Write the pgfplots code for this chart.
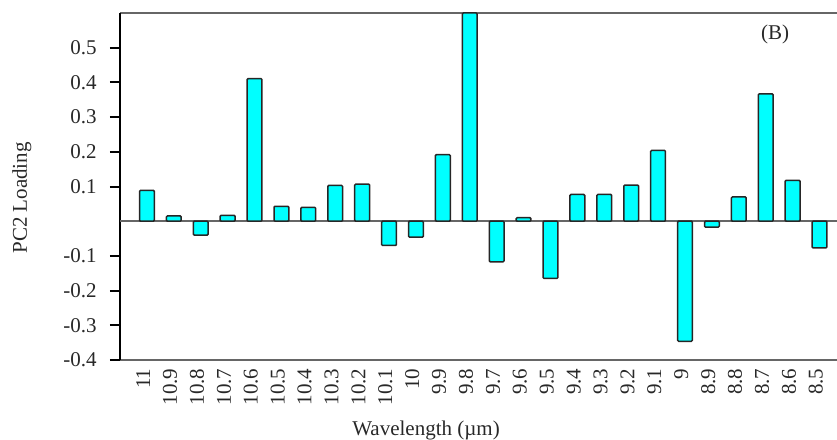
\documentclass[border=0pt]{standalone}
\usepackage{pgfplots}
\pgfplotsset{compat=1.18}
\usepackage{pgfplotstable}
\usepackage{fontspec}
\setmainfont{Liberation Serif}

% PC2 loading for each wavelength channel (index 0 = 11 um ... 25 = 8.5 um)
\pgfplotstableread{
idx load
0   0.089
1   0.015
2  -0.040
3   0.017
4   0.411
5   0.043
6   0.040
7   0.103
8   0.107
9  -0.070
10 -0.046
11  0.192
12  0.600
13 -0.117
14  0.010
15 -0.165
16  0.077
17  0.077
18  0.104
19  0.204
20 -0.346
21 -0.017
22  0.070
23  0.367
24  0.118
25 -0.077
}\loadings

\definecolor{barfill}{RGB}{0,255,255}
\definecolor{txt}{RGB}{40,40,40}

\begin{document}
\begin{tikzpicture}
\begin{axis}[
  scale only axis,
  width=430.2pt, height=208.2pt,
  xmin=-1, xmax=25.65,
  ymin=-0.4, ymax=0.6,
  axis x line*=box,
  axis y line*=left,
  x axis line style={draw=black!60, line width=1.1pt},
  y axis line style={draw=black, line width=1.5pt},
  xtick={0,...,25},
  xticklabels={11,10.9,10.8,10.7,10.6,10.5,10.4,10.3,10.2,10.1,10,9.9,9.8,9.7,9.6,9.5,9.4,9.3,9.2,9.1,9,8.9,8.8,8.7,8.6,8.5},
  major x tick style={draw=none},
  xticklabel style={rotate=90, anchor=east, inner sep=0pt, xshift=1pt, yshift=2.2pt},
  ytick={-0.4,-0.3,-0.2,-0.1,0.1,0.2,0.3,0.4,0.5},
  yticklabels={-0.4,-0.3,-0.2,-0.1,0.1,0.2,0.3,0.4,0.5},
  tick align=outside,
  major tick length=6pt,
  major y tick style={draw=black, line width=1.2pt},
  yticklabel style={anchor=east, inner sep=0pt, xshift=-7.8pt},
  tick label style={font=\fontsize{12.6pt}{15pt}\selectfont, text=txt},
  extra y ticks={0},
  extra y tick labels={},
  extra y tick style={grid=major, major grid style={draw=black!60, line width=1.1pt}, major tick length=0pt},
  every axis x label/.style={at={(axis description cs:0.4268,-0.2017)}, anchor=center},
  every axis y label/.style={at={(axis description cs:-0.1367,0.467)}, rotate=90, anchor=center},
  label style={font=\fontsize{12.6pt}{15pt}\selectfont, text=txt},
  xlabel={Wavelength (\symbol{"00B5}m)},
  ylabel={PC2 Loading},
  clip=true,
]
\addplot[ybar, bar width=0.55, fill=barfill, draw=black!85, line width=0.9pt, rounded corners=0.6pt]
  table[x=idx, y=load] {\loadings};
\node[font=\fontsize{12.6pt}{15pt}\selectfont, text=txt] at (axis cs:23.35,0.539) {(B)};
\end{axis}
\pgfresetboundingbox
\path[use as bounding box] (current axis.south west) ++(-72pt,-47.4pt) rectangle ++(502.2pt,263.4pt);
\end{tikzpicture}
\end{document}
